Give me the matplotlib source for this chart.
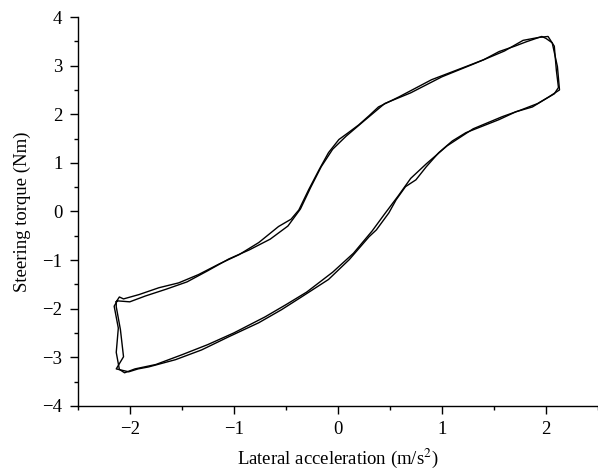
# Steering torque vs lateral acceleration hysteresis (two cycles)

import matplotlib.pyplot as plt
from matplotlib.ticker import MultipleLocator

plt.rcParams['font.family'] = ['Liberation Serif', 'DejaVu Serif']
plt.rcParams['mathtext.fontset'] = 'stix'

# cycle 1 (upper branch left->right, then lower branch right->left)
cycle1_x = [-2.13, -2.10, -2.06, -1.91, -1.72, -1.53, -1.34, -1.14, -0.95, -0.76, -0.57,
            -0.45, -0.375, -0.28, -0.18, -0.09, 0.01, 0.10, 0.20, 0.30, 0.39, 0.59, 0.90, 1.23,
            1.40, 1.55, 1.70, 1.81, 1.96, 2.00, 2.06, 2.11, 2.13,
            2.03, 1.87, 1.71, 1.55, 1.23, 1.10, 0.97, 0.85, 0.75, 0.65, 0.56, 0.49,
            0.37, 0.30, 0.11, -0.09, -0.35, -0.54, -0.76, -1.05, -1.31, -1.56,
            -1.82, -1.92, -2.01, -2.13, -2.06, -2.09, -2.13, -2.13]
cycle1_y = [-1.86, -1.76, -1.80, -1.71, -1.57, -1.47, -1.30, -1.08, -0.89, -0.64, -0.31,
            -0.16, 0.03, 0.45, 0.86, 1.21, 1.48, 1.62, 1.78, 1.97, 2.15, 2.36, 2.71, 2.98,
            3.12, 3.29, 3.40, 3.49, 3.60, 3.56, 3.47, 2.98, 2.50,
            2.36, 2.15, 2.05, 1.89, 1.62, 1.45, 1.21, 0.92, 0.65, 0.51, 0.24, -0.03,
            -0.38, -0.52, -0.99, -1.40, -1.76, -2.02, -2.29, -2.58, -2.85, -3.05,
            -3.20, -3.24, -3.30, -3.24, -2.99, -2.43, -1.96, -1.86]

# cycle 2
cycle2_x = [-2.12, -2.00, -1.85, -1.65, -1.45, -1.25, -1.05, -0.85, -0.65, -0.48,
            -0.36, -0.26, -0.16, -0.05, 0.08, 0.25, 0.45, 0.70, 1.00, 1.30,
            1.60, 1.78, 1.93, 2.02, 2.08, 2.10, 2.12,
            2.08, 1.92, 1.75, 1.58, 1.30, 1.05, 0.85, 0.70, 0.58, 0.45,
            0.33, 0.15, -0.05, -0.30, -0.50, -0.70, -1.00, -1.25, -1.50, -1.75,
            -1.95, -2.05, -2.10, -2.13, -2.11, -2.15, -2.12]
cycle2_y = [-1.84, -1.86, -1.74, -1.60, -1.45, -1.22, -0.98, -0.79, -0.57, -0.30,
            0.05, 0.50, 0.92, 1.28, 1.55, 1.86, 2.22, 2.44, 2.77, 3.03,
            3.30, 3.52, 3.58, 3.60, 3.40, 2.90, 2.55,
            2.42, 2.22, 2.08, 1.95, 1.70, 1.35, 0.98, 0.68, 0.32, -0.05,
            -0.40, -0.86, -1.25, -1.66, -1.92, -2.17, -2.50, -2.74, -2.95, -3.15,
            -3.24, -3.32, -3.25, -2.90, -2.40, -1.95, -1.84]

fig = plt.figure(figsize=(5.98, 4.73), dpi=100)
ax = fig.add_axes([0.130, 0.142, 0.870, 0.822])

ax.plot(cycle1_x, cycle1_y, color='black', linewidth=1.0)
ax.plot(cycle2_x, cycle2_y, color='black', linewidth=1.0)

ax.set_xlim(-2.5, 2.5)
ax.set_ylim(-4, 4)
ax.xaxis.set_major_locator(MultipleLocator(1))
ax.xaxis.set_minor_locator(MultipleLocator(0.5))
ax.yaxis.set_major_locator(MultipleLocator(1))
ax.yaxis.set_minor_locator(MultipleLocator(0.5))

ax.spines['top'].set_visible(False)
ax.spines['right'].set_visible(False)
for s in ['left', 'bottom']:
    ax.spines[s].set_linewidth(1.0)

ax.tick_params(which='major', direction='out', length=6, width=1.0,
               labelsize=13.5, pad=5)
ax.tick_params(which='minor', direction='out', length=3, width=1.0)

ax.set_xlabel(r'Lateral acceleration (m/s$^2$)', fontsize=13.5, labelpad=6)
ax.set_ylabel('Steering torque (Nm)', fontsize=13.5, labelpad=8)

fig.savefig('out.png', dpi=100)
